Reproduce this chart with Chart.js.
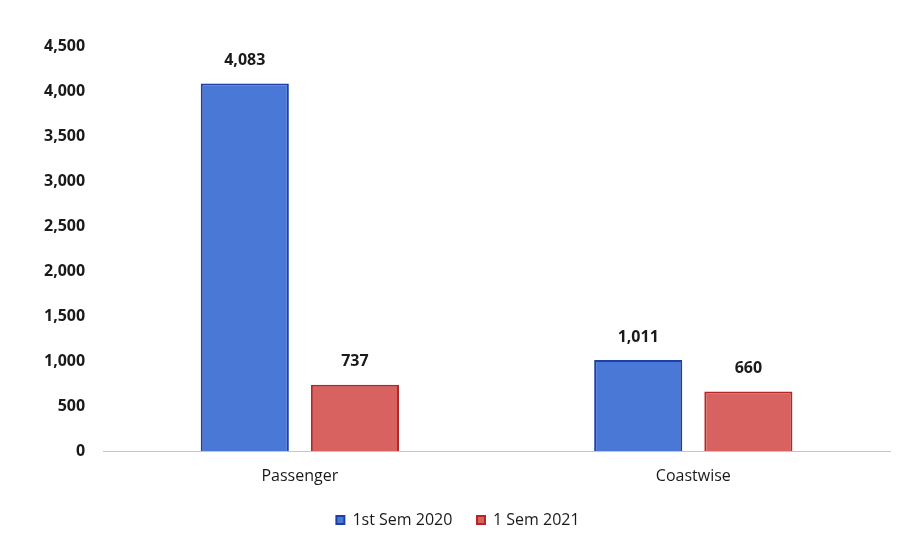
<!DOCTYPE html>
<html>
<head>
<meta charset="utf-8">
<script src="https://cdn.jsdelivr.net/npm/chart.js@4/dist/chart.umd.min.js"></script>
<style>
  body { margin: 0; background: #fff; }
  #wrap { width: 905px; height: 538px; }
</style>
</head>
<body>
<div id="wrap"><canvas id="chart" width="905" height="538"></canvas></div>
<script>
const categories = ["Passenger", "Coastwise"];
const sem2020 = [4083, 1011];
const sem2021 = [737, 660];
const yTicks = [0, 500, 1000, 1500, 2000, 2500, 3000, 3500, 4000, 4500];

const fontFamily = "'Open Sans', 'Liberation Sans', sans-serif";

// Value labels above each bar
const barLabels = {
  id: "barLabels",
  afterDatasetsDraw(chart) {
    const ctx = chart.ctx;
    ctx.save();
    ctx.font = "bold 16px " + fontFamily;
    ctx.fillStyle = "#1a1a1a";
    ctx.textAlign = "center";
    ctx.textBaseline = "bottom";
    chart.data.datasets.forEach((ds, i) => {
      chart.getDatasetMeta(i).data.forEach((bar, j) => {
        ctx.fillText(ds.data[j].toLocaleString("en-US"), bar.x, bar.y - 15);
      });
    });
    ctx.restore();
  }
};

new Chart(document.getElementById("chart"), {
  type: "bar",
  data: {
    labels: categories,
    datasets: [
      {
        label: "1st Sem 2020",
        data: sem2020,
        backgroundColor: "#4a78d6",
        borderColor: "#1e3fa6",
        borderWidth: 2,
        categoryPercentage: 0.56,
        barPercentage: 0.8
      },
      {
        label: "1 Sem 2021",
        data: sem2021,
        backgroundColor: "#d8625f",
        borderColor: "#b52626",
        borderWidth: 2,
        categoryPercentage: 0.56,
        barPercentage: 0.8
      }
    ]
  },
  options: {
    responsive: false,
    animation: false,
    layout: { padding: { top: 46, right: 15, left: 26, bottom: 0 } },
    plugins: {
      legend: {
        position: "bottom",
        labels: {
          boxWidth: 8,
          boxHeight: 8,
          padding: 6,
          color: "#1a1a1a",
          font: { family: fontFamily, size: 16 },
          generateLabels: (chart) => {
            const items = Chart.defaults.plugins.legend.labels.generateLabels(chart);
            items[0].text += "\u2003\u2009";
            return items;
          }
        }
      },
      tooltip: { enabled: false }
    },
    scales: {
      x: {
        grid: { display: false, drawTicks: false },
        border: { color: "#e6b9b9", width: 1 },
        ticks: { color: "#1a1a1a", padding: 16, font: { family: fontFamily, size: 16 } },
        afterFit: (axis) => { axis.height = 55; }
      },
      y: {
        min: 0,
        max: 4500,
        afterBuildTicks: (axis) => { axis.ticks = yTicks.map(v => ({ value: v })); },
        grid: { display: false, drawTicks: false },
        border: { display: false },
        ticks: {
          color: "#1a1a1a",
          padding: 18,
          font: { family: fontFamily, size: 16, weight: "bold" },
          callback: (v) => v.toLocaleString("en-US")
        }
      }
    }
  },
  plugins: [barLabels]
});
</script>
</body>
</html>
